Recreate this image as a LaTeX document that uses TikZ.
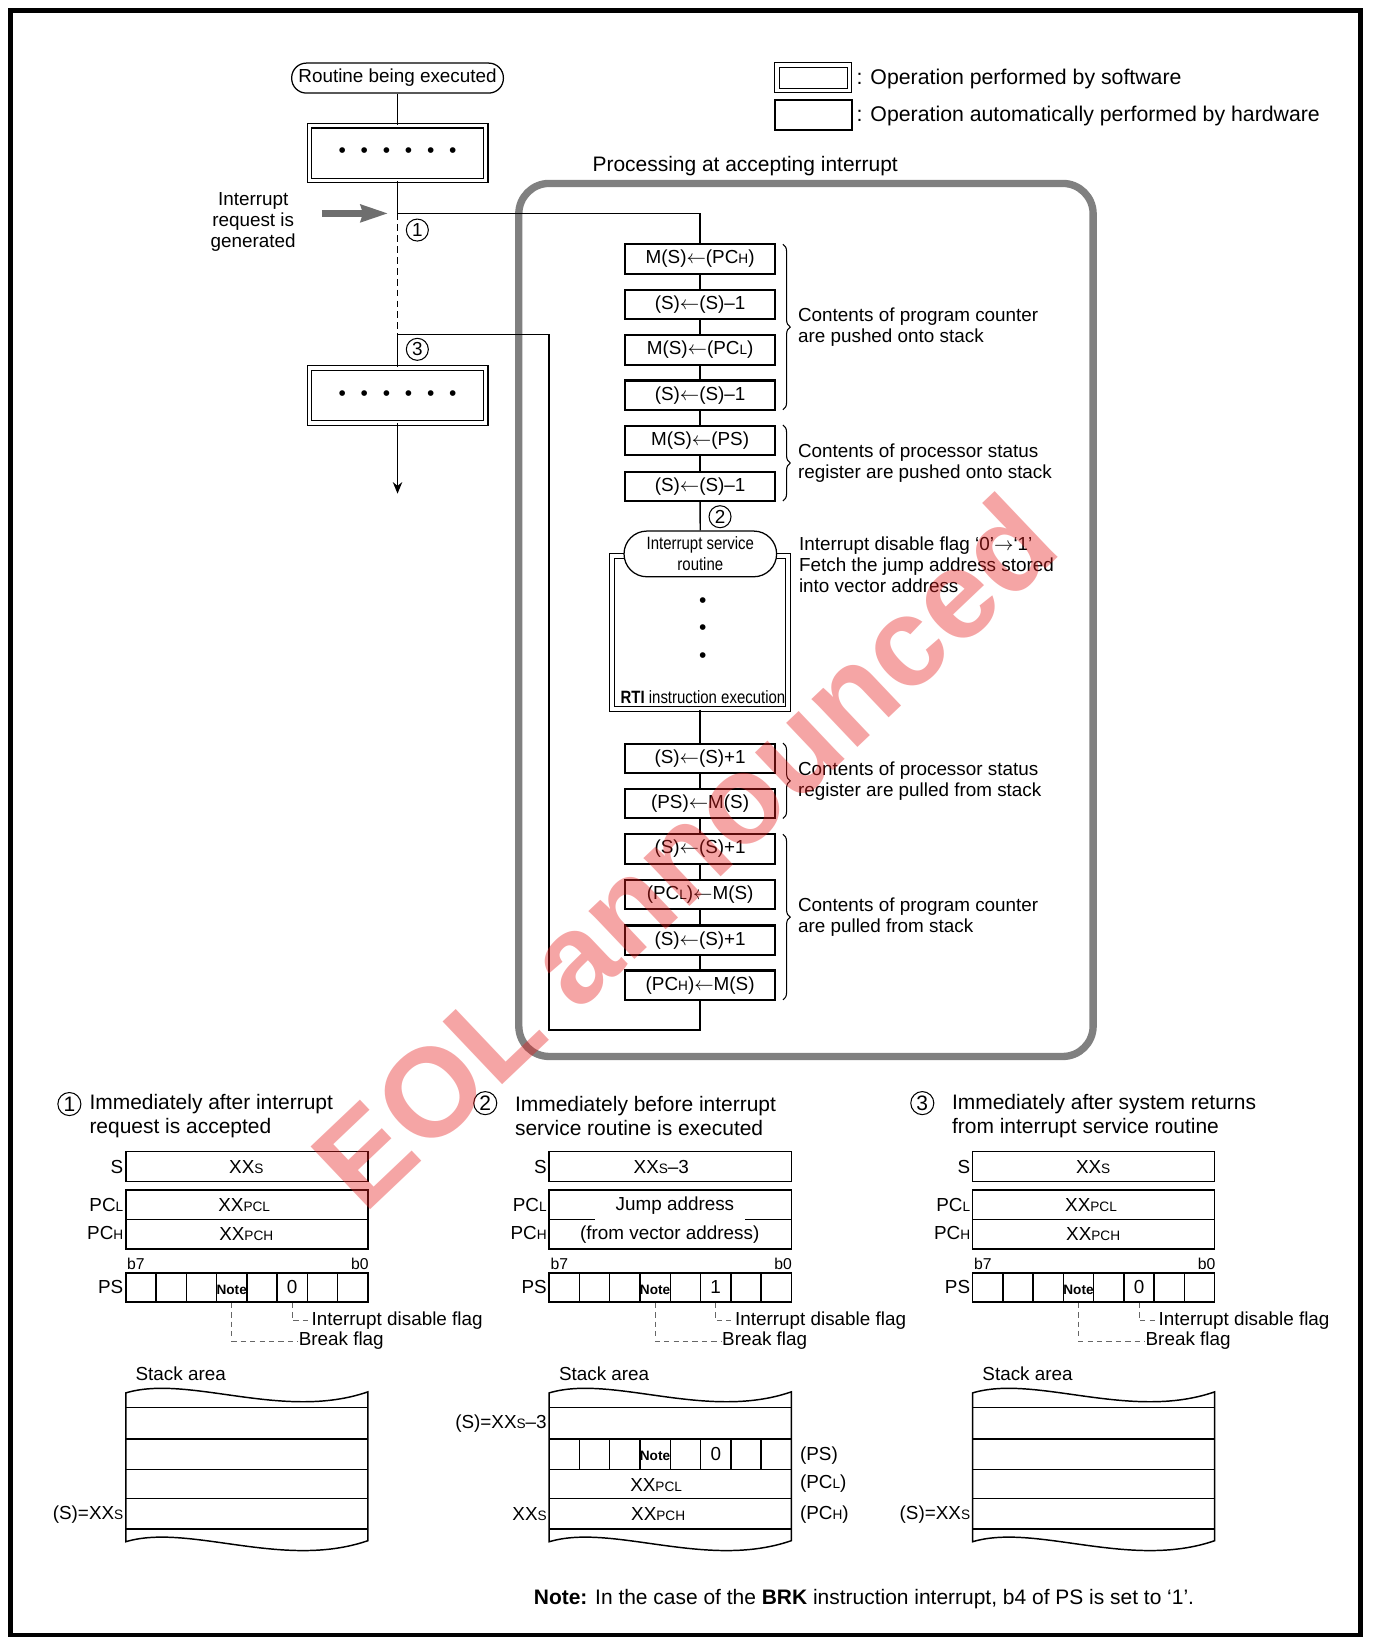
\documentclass[tikz,border=0pt]{standalone}
\usepackage{fontspec}
\setmainfont{Liberation Sans}
\newfontfamily\narrowfont[FakeStretch=0.84]{Liberation Sans}
\usepackage{tikz}
\usetikzlibrary{arrows.meta}
\usetikzlibrary{decorations.pathreplacing}

\definecolor{wmred}{RGB}{230,30,30}
\definecolor{procgray}{RGB}{128,128,128}
\newcommand{\regsub}[1]{{\fontsize{6.5}{7}\selectfont #1}}
\newcommand{\sixdots}{\textbullet\hspace{7.05pt}\textbullet\hspace{7.05pt}\textbullet\hspace{7.05pt}\textbullet\hspace{7.05pt}\textbullet\hspace{7.05pt}\textbullet}

\begin{document}
\begin{tikzpicture}[x = 0.5pt, y = -0.5pt]
	\tikzstyle{every node}=[font=\fontsize{9}{10}\selectfont]
	\tikzset{hwbox/.style = {draw, line width = 1pt, minimum width = 71.5pt, minimum height = 14pt, inner sep = 0pt}}
	\tikzset{swbox/.style = {draw, double, double distance = 1.8pt, line width = 0.5pt, inner sep = 0pt}}
	\tikzset{stadium/.style = {draw, line width = 0.6pt, rounded corners = 7pt, inner sep = 0pt, fill = white}}
	\tikzset{num/.style = {circle, draw, line width = 0.5pt, inner sep = 0pt, minimum size = 10.5pt}}
	\tikzset{conn/.style = {line width = 0.7pt}}
	\tikzset{brc/.style = {decorate, decoration = {brace, amplitude = 3.5pt}, line width = 0.5pt}}
	\tikzset{brctext/.style = {anchor = west, xshift = 7pt, inner sep = 0pt, align = left}}
	\tikzset{reg/.style = {draw, line width = 0.7pt, minimum width = 115.5pt, inner sep = 0pt}}
	\tikzset{cell/.style = {draw, line width = 0.7pt, minimum width = 14.44pt, minimum height = 14pt, inner sep = 0pt}}
	\tikzset{flagline/.style = {line width = 0.4pt, dash pattern = on 2.5pt off 2pt, black!60}}
	\tikzset{notetext/.style = {font = \fontsize{6.5}{7}\selectfont\bfseries, inner sep = 0pt, yshift = -1pt}}
	\tikzset{bit/.style = {font = \fontsize{7.5}{8}\selectfont, inner sep = 0.5pt}}
	\tikzset{title/.style = {anchor = west, align = left, inner sep = 0pt, font = \fontsize{10}{11.5}\selectfont}}

\useasboundingbox (0,0) rectangle (1310,1570.5);
\draw[line width = 2pt] (10,10) rectangle (1298,1560);

%% Legend
\node[swbox, minimum width = 34.5pt, minimum height = 12.3pt] (legsw) at (776,74) {};
\node[hwbox, minimum width = 36.5pt, minimum height = 14.5pt] (leghw) at (776,109.5) {};
\node[anchor = west, inner sep = 0pt, font = \fontsize{10.15}{12}\selectfont] (legswtext) at (817,75) {: Operation performed by software};
\node[anchor = west, inner sep = 0pt, font = \fontsize{10.15}{12}\selectfont] (leghwtext) at (817,110.5) {: Operation automatically performed by hardware};

%% Routine being executed
\node[stadium, minimum width = 101pt, minimum height = 14.3pt] (routine) at (379.3,74.5) {Routine being executed};
\node[swbox, minimum width = 84pt, minimum height = 26.2pt, font = \fontsize{10}{10}\selectfont] (dotsone) at (379.3,146) {\sixdots};
\coordinate (irq) at (379.3,203.6);
\coordinate (back) at (379.3,319.4);
\node[swbox, minimum width = 84pt, minimum height = 26.2pt, font = \fontsize{10}{10}\selectfont] (dotstwo) at (379.3,377.2) {\sixdots};
\coordinate (cont) at (379.3,471);
\coordinate (irqsrc) at (307,203.6);
\node[align = center, inner sep = 0pt] (irqtext) at (241.6,211.5) {Interrupt\\request is\\generated};
\node[num] (one) at (398.2,219.5) {1};
\node[num] (three) at (398.2,333.3) {3};

%% Processing frame
\draw[line width = 3.5pt, procgray, rounded corners = 14.5pt] (495,175) rectangle (1043,1008);
\node[font = \fontsize{10}{12}\selectfont] (proctitle) at (711,158) {Processing at accepting interrupt};

%% Hardware steps
\node[hwbox] (pushpch) at (668,247) {M(S)$\leftarrow$(PC\regsub{H})};
\node[hwbox] (decsa) at (668,290.5) {(S)$\leftarrow$(S)--1};
\node[hwbox] (pushpcl) at (668,334) {M(S)$\leftarrow$(PC\regsub{L})};
\node[hwbox] (decsb) at (668,377) {(S)$\leftarrow$(S)--1};
\node[hwbox] (pushps) at (668,420.5) {M(S)$\leftarrow$(PS)};
\node[hwbox] (decsc) at (668,464) {(S)$\leftarrow$(S)--1};
\node[num] (two) at (687,493) {2};

%% Interrupt service routine
\node[swbox, minimum width = 84pt, minimum height = 73pt] (isrbox) at (668,603.5) {};
\node[stadium, minimum width = 72.8pt, minimum height = 21.8pt, rounded corners = 10.9pt, align = center, font = \narrowfont\fontsize{8.5}{10}\selectfont] (isr) at (668.2,528.5) {Interrupt service\\routine};
\node[align = center, inner sep = 0pt, font = \fontsize{10}{13}\selectfont] (isrdots) at (670.5,601) {\textbullet\\\textbullet\\\textbullet};
\node[inner sep = 0pt, font = \narrowfont\fontsize{8.5}{10}\selectfont] (rti) at (670.7,665) {\textbf{RTI} instruction execution};

\node[hwbox] (incsa) at (668,723.5) {(S)$\leftarrow$(S)+1};
\node[hwbox] (pullps) at (668,766.5) {(PS)$\leftarrow$M(S)};
\node[hwbox] (incsb) at (668,810) {(S)$\leftarrow$(S)+1};
\node[hwbox] (pullpcl) at (668,853.5) {(PC\regsub{L})$\leftarrow$M(S)};
\node[hwbox] (incsc) at (668,897) {(S)$\leftarrow$(S)+1};
\node[hwbox] (pullpch) at (668,940) {(PC\regsub{H})$\leftarrow$M(S)};
\coordinate (retcorner) at (523.9,982.8);

%% Edges
\draw[conn] (routine) -- (dotsone);
\draw[conn] (dotsone) -- (irq);
\draw[conn, dash pattern = on 3.2pt off 2pt] (irq) -- (back);
\draw[conn] (back) -- (dotstwo);
\draw[conn, -{Stealth[length = 5.5pt, width = 4.5pt]}] (dotstwo) -- (cont);
\draw[line width = 3.5pt, black!57, -{Stealth[length = 13pt, width = 8pt, inset = 1pt]}] (irqsrc) -- ([xshift = -4.4pt]irq);
\draw[conn] (irq) -| (pushpch);
\foreach \a/\b in {pushpch/decsa, decsa/pushpcl, pushpcl/decsb, decsb/pushps, pushps/decsc, incsa/pullps, pullps/incsb, incsb/pullpcl, pullpcl/incsc, incsc/pullpch}
	\draw[conn] (\a) -- (\b);
\draw[conn] (decsc) -- (isr);
\draw[conn] (isrbox) -- (incsa);
\draw[conn] (pullpch) |- (retcorner) |- (back);

%% Braces
\draw[brc] (747,233) -- node[brctext] (pushpctext) {Contents of program counter\\are pushed onto stack} (747,391);
\draw[brc] (747,405.5) -- node[brctext] (pushpstext) {Contents of processor status\\register are pushed onto stack} (747,478);
\node[anchor = west, inner sep = 0pt, align = left] (isrtext) at (762,538.5) {Interrupt disable flag ‘0’$\rightarrow$‘1’\\Fetch the jump address stored\\into vector address};
\draw[brc] (747,709) -- node[brctext] (pullpstext) {Contents of processor status\\register are pulled from stack} (747,781);
\draw[brc] (747,796) -- node[brctext] (pullpctext) {Contents of program counter\\are pulled from stack} (747,954);

%% Register panels
\node[num, minimum size = 11pt, font = \fontsize{10}{10}\selectfont] (onebtm) at (66.2,1053.4) {1};
\node[title] (titleone) at (85,1065) {Immediately after interrupt\\request is accepted};
\node[num, minimum size = 11pt, font = \fontsize{10}{10}\selectfont] (twobtm) at (463,1052.5) {2};
\node[title] (titletwo) at (491,1065) {Immediately before interrupt\\service routine is executed};
\node[num, minimum size = 11pt, font = \fontsize{10}{10}\selectfont] (threebtm) at (880,1052.5) {3};
\node[title] (titlethree) at (908,1065) {Immediately after system returns\\from interrupt service routine};

\foreach \lx/\pn/\ie in {120/1/0, 524/2/1, 928/3/0}{
	\node[reg, minimum height = 14.3pt] (sreg\pn) at (\lx+115.5,1113) {};
	\node[reg, minimum height = 28.2pt] (pcreg\pn) at (\lx+115.5,1163.4) {};
	\node[anchor = east, inner sep = 0pt] (slbl\pn) at (\lx-2,1113) {S};
	\node[anchor = east, inner sep = 0pt] (pcllbl\pn) at (\lx-2,1149.5) {PC\regsub{L}};
	\node[anchor = east, inner sep = 0pt] (pchlbl\pn) at (\lx-2,1176.5) {PC\regsub{H}};
	\node[anchor = east, inner sep = 0pt] (pslbl\pn) at (\lx-2,1227.5) {PS};
	\node[bit, anchor = south west] (bseven\pn) at (\lx,1213) {b7};
	\node[bit, anchor = south east] (bzero\pn) at (\lx+233,1213) {b0};
	\foreach \c in {0,...,7}
		\node[cell] (ps\pn-\c) at (\lx+14.44+\c*28.875,1228.4) {};
	\node[notetext] (note\pn) at (ps\pn-3) {Note};
	\node (ie\pn) at (ps\pn-5) {\ie};
	\node[anchor = west, inner sep = 0pt] (ietext\pn) at (\lx+177,1260) {Interrupt disable flag};
	\node[anchor = west, inner sep = 0pt] (brktext\pn) at (\lx+164.7,1279.5) {Break flag};
	\draw[flagline] (ps\pn-5.south) |- (ietext\pn.west);
	\draw[flagline] (ps\pn-3.south) |- (brktext\pn.west);
	%% stack area
	\node[anchor = west, inner sep = 0pt] (stacklbl\pn) at (\lx+9,1311) {Stack area};
	\draw[conn] (\lx,1329) .. controls (\lx+60,1311) and (\lx+150,1356) .. (\lx+231,1328) -- (\lx+231,1470) .. controls (\lx+150,1498) and (\lx+60,1453) .. (\lx,1471) -- cycle;
	\foreach \yy in {1343,1373,1402,1430,1459}
		\draw[conn] (\lx,\yy) -- (\lx+231,\yy);
}

%% Panel 1 and 3 contents
\foreach \lx/\pn in {120/1, 928/3}{
	\draw[conn] (pcreg\pn.west) -- (pcreg\pn.east);
	\node (sval\pn) at (\lx+115,1113.5) {XX\regsub{S}};
	\node (pclval\pn) at (\lx+113,1150) {XX\regsub{PCL}};
	\node (pchval\pn) at (\lx+115,1177.5) {XX\regsub{PCH}};
	\node[anchor = east, inner sep = 0pt] (sptr\pn) at (\lx-2,1445) {(S)=XX\regsub{S}};
}

%% Panel 2 contents
\draw[conn] (pcreg2.west) -- (568,1163.4);
\draw[conn] (711,1163.4) -- (pcreg2.east);
\node (sval2) at (631,1113.5) {XX\regsub{S}--3};
\node (jump2) at (644,1150) {Jump address};
\node (vect2) at (639,1177.5) {(from vector address)};
\node[anchor = east, inner sep = 0pt] (sptr2) at (522,1358.5) {(S)=XX\regsub{S}--3};
\foreach \c in {1,...,7}
	\draw[conn] (524+\c*28.875,1373) -- (524+\c*28.875,1402);
\node[notetext] (stnote2) at (625,1387.5) {Note};
\node (stps2) at (683,1387) {0};
\node (stpcl2) at (626,1416.5) {XX\regsub{PCL}};
\node (stpch2) at (628,1445) {XX\regsub{PCH}};
\node[anchor = east, inner sep = 0pt] (stxx2) at (522,1445) {XX\regsub{S}};
\node[anchor = west, inner sep = 0pt] (stpslbl2) at (763,1388.5) {(PS)};
\node[anchor = west, inner sep = 0pt] (stpcllbl2) at (763,1416) {(PC\regsub{L})};
\node[anchor = west, inner sep = 0pt] (stpchlbl2) at (763,1445) {(PC\regsub{H})};

%% Note
\node[anchor = west, inner sep = 0pt, font = \fontsize{10}{12}\selectfont] (notetext) at (509,1526) {\textbf{Note:} In the case of the \textbf{BRK} instruction interrupt, b4 of PS is set to ‘1’.};

%% Watermark
\node[rotate = 43.5, text = wmred, text opacity = 0.4, inner sep = 0pt, font = \fontsize{60}{60}\selectfont\bfseries] (eol) at (652,812) {EOL announced};

\end{tikzpicture}
\end{document}
